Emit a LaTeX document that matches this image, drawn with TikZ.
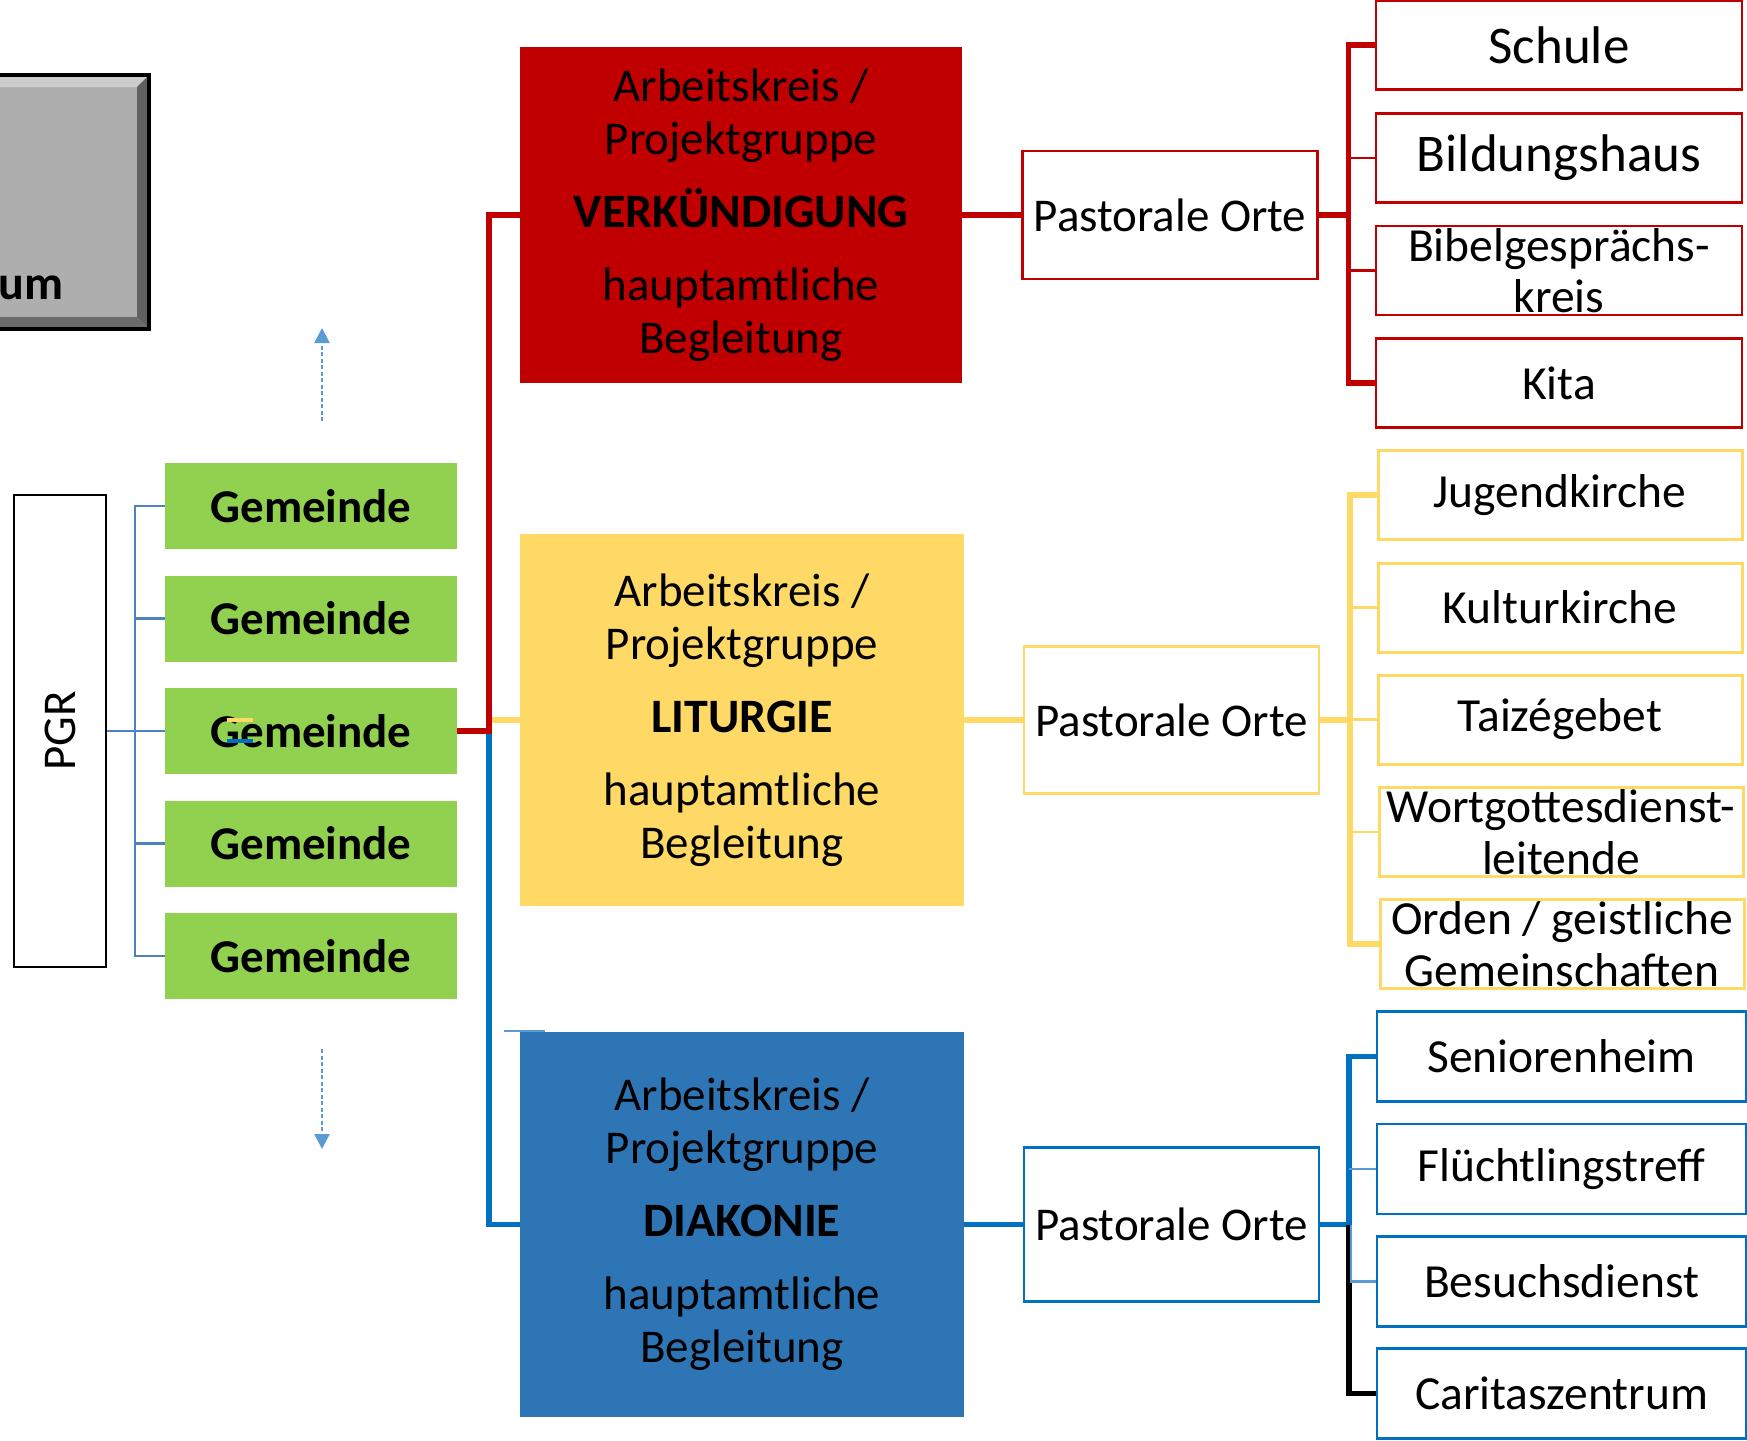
\documentclass[tikz,border=0pt]{standalone}
\usepackage{fontspec}
\setmainfont{Carlito}
\usetikzlibrary{arrows.meta}
\definecolor{cred}{HTML}{C00000}
\definecolor{cyel}{HTML}{FFD966}
\definecolor{cblu}{HTML}{2E75B6}
\definecolor{lblu}{HTML}{0070C0}
\definecolor{cgrn}{HTML}{92D050}
\definecolor{sblu}{HTML}{4F81BD}
\definecolor{dblu}{HTML}{5B9BD5}
\definecolor{cgry}{HTML}{AEAEAE}
\newcommand{\bw}[1]{{\fontsize{48}{53}\selectfont\bfseries #1}}
\begin{document}
\begin{tikzpicture}[x=1pt,y=-1pt,
  txt/.style={font=\fontsize{47}{53}\selectfont},
  gem/.style={fill=cgrn, minimum width=292pt, minimum height=86pt, inner sep=0pt, font=\fontsize{47}{53}\selectfont\bfseries},
  big/.style={inner sep=0pt, align=center, font=\fontsize{47}{53}\selectfont},
  port/.style={draw, line width=2.2pt, fill=white, minimum width=295pt, inner sep=0pt, font=\fontsize{47}{53}\selectfont},
  smallbox/.style={draw, fill=white, inner sep=0pt, align=center},
  rline/.style={cred, line width=5.5pt},
  rthin/.style={cred, line width=2.5pt},
  yline/.style={cyel, line width=5.5pt},
  ythin/.style={cyel, line width=2.5pt},
  bline/.style={lblu, line width=5.5pt},
  bthin/.style={dblu, line width=2.5pt},
  kline/.style={black, line width=5.5pt},
  sline/.style={sblu, line width=2.5pt},
  dasharrow/.style={dblu, line width=2.3pt, dash pattern=on 4pt off 2.5pt, -{Triangle[length=15pt,width=15pt]}}
]
\useasboundingbox (0,0) rectangle (1747,1440);
\clip (0,0) rectangle (1747,1440);

% top-left grey box
\node[fill=cgry, minimum width=360pt, minimum height=254pt, inner sep=0pt] (gt) at (-31,202) {};
\fill[gray!40!white] (-211,77) -- (147,77) -- (137,87) -- (-211,87) -- cycle;
\fill[gray!75!black] (147,77) -- (147,327) -- (137,317) -- (137,87) -- cycle;
\fill[gray!85!black] (-211,327) -- (147,327) -- (137,317) -- (-211,317) -- cycle;
\draw[black, line width=4pt] (gt.north west) rectangle (gt.south east);
\node[anchor=base east, inner sep=0pt, font=\fontsize{48}{53}\selectfont\bfseries] (gtt) at (64,299) {um};

% dashed arrows
\coordinate (ua1) at (322,421);
\coordinate (ua2) at (322,328);
\coordinate (da1) at (322,1049);
\coordinate (da2) at (322,1149);
\draw[dasharrow] (ua1) -- (ua2);
\draw[dasharrow] (da1) -- (da2);

% PGR
\node[draw, line width=2.5pt, minimum width=92pt, minimum height=472pt, inner sep=0pt] (pgr) at (60,731) {};
\node[rotate=90, txt, inner sep=0pt] (pgrt) at (pgr.center) {PGR};

% Gemeinden
\node[gem] (g1) at (311,506) {Gemeinde};
\node[gem] (g2) at (311,618.5) {Gemeinde};
\node[gem] (g3) at (311,731) {Gemeinde};
\node[gem] (g4) at (311,843.5) {Gemeinde};
\node[gem] (g5) at (311,956) {Gemeinde};

\coordinate (lj) at (135,731);
\draw[sline] (pgr.east) -- (lj) -- (g3.west);
\draw[sline] (g1.west) -| (lj) |- (g5.west);
\draw[sline] (g2.west) -- (g2.west -| lj);
\draw[sline] (g4.west) -- (g4.west -| lj);

% artefact dashes on middle Gemeinde
\draw[cyel, line width=4pt] (227,720) -- (253,720);
\draw[lblu, line width=4pt] (227,741) -- (253,741);

% big boxes
\node[big, fill=cred, minimum width=442pt, minimum height=336pt] (rbox) at (741,215)
  {Arbeitskreis /\\Projektgruppe\\[20pt]\bw{VERKÜNDIGUNG}\\[20pt]hauptamtliche\\Begleitung};
\node[big, fill=cyel, minimum width=444pt, minimum height=372pt] (ybox) at (742,720)
  {Arbeitskreis /\\Projektgruppe\\[20pt]\bw{LITURGIE}\\[20pt]hauptamtliche\\Begleitung};
\node[big, fill=cblu, minimum width=444pt, minimum height=385pt] (bbox) at (742,1224.5)
  {Arbeitskreis /\\Projektgruppe\\[20pt]\bw{DIAKONIE}\\[20pt]hauptamtliche\\Begleitung};
\draw[dblu, line width=2pt] (504,1030.5) -- (545,1030.5);

% connectors Gemeinde -> big boxes
\coordinate (mj) at (489,731);
\draw[bline] (mj) |- (bbox.west);
\draw[rline] (g3.east) -- (mj) |- (rbox.west);
\draw[yline] (ybox.west) -- ++(-28,0);

% Pastorale Orte
\node[port, draw=cred, minimum height=128pt] (rpo) at (1170,215) {Pastorale Orte};
\node[port, draw=cyel, minimum height=147pt] (ypo) at (1171.5,720) {Pastorale Orte};
\node[port, draw=lblu, minimum height=154pt] (bpo) at (1171.5,1224.5) {Pastorale Orte};
\draw[rline] (rbox.east) -- (rpo.west);
\draw[yline] (ybox.east) -- (ypo.west);
\draw[bline] (bbox.east) -- (bpo.west);

% red small boxes
\begin{scope}[every node/.style={smallbox, draw=cred, line width=2.2pt, minimum width=366pt, minimum height=89pt, font=\fontsize{53}{50}\selectfont}]
\node (s1) at (1559,45) {Schule};
\node (s2) at (1559,158) {Bildungshaus};
\node[font=\fontsize{47.5}{51}\selectfont] (s3) at (1559,270.5) {Bibelgesprächs-\\kreis};
\node[font=\fontsize{47.5}{51}\selectfont] (s4) at (1559,383) {Kita};
\end{scope}
\draw[rline] (rpo.east) -- ++(30,0) coordinate (rj);
\draw[rline] (s1.west) -| (rj) |- (s4.west);
\draw[rthin] (s2.west) -- (s2.west -| rj);
\draw[rthin] (s3.west) -- (s3.west -| rj);

% yellow small boxes
\begin{scope}[every node/.style={smallbox, draw=cyel, line width=3pt, minimum width=364pt, minimum height=89pt, font=\fontsize{47.5}{52}\selectfont}]
\node (y1) at (1560,495) {Jugendkirche};
\node (y2) at (1560,607.5) {Kulturkirche};
\node (y3) at (1560,719.5) {Taizégebet};
\node (y4) at (1561,832) {Wortgottesdienst-\\leitende};
\node (y5) at (1562,944) {Orden / geistliche\\Gemeinschaften};
\end{scope}
\draw[yline] (ypo.east) -- ++(30,0) coordinate (yj);
\draw[yline] (y1.west) -| (yj) |- (y5.west);
\draw[ythin] (y2.west) -- (y2.west -| yj);
\draw[ythin] (y3.west) -- (y3.west -| yj);
\draw[ythin] (y4.west) -- (y4.west -| yj);

% blue small boxes
\begin{scope}[every node/.style={smallbox, draw=lblu, line width=2.6pt, minimum width=369pt, minimum height=90pt, font=\fontsize{47.5}{52}\selectfont}]
\node (b1) at (1561.5,1056.5) {Seniorenheim};
\node (b2) at (1561.5,1169) {Flüchtlingstreff};
\node (b3) at (1561.5,1281.5) {Besuchsdienst};
\node (b4) at (1561.5,1393.5) {Caritaszentrum};
\end{scope}
\draw[bline] (bpo.east) -- ++(29,0) coordinate (bj);
\draw[kline] (bj) |- (b4.west);
\draw[bline] (b1.west) -| (bj);
\draw[bthin] ([xshift=2pt]bj) |- (b3.west);
\draw[bthin] (b2.west) -- (b2.west -| bj);
\end{tikzpicture}
\end{document}
